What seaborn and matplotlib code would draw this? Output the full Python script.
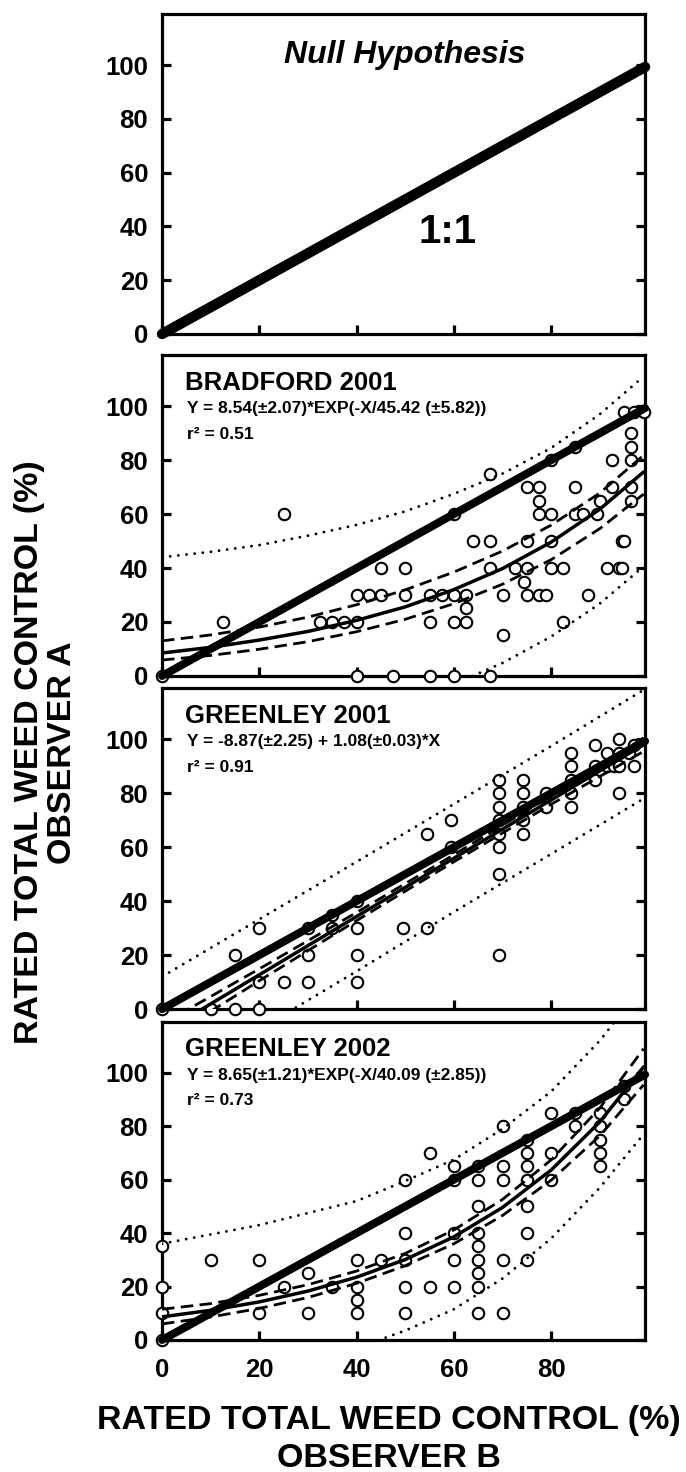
import matplotlib
matplotlib.use("Agg")
import matplotlib.pyplot as plt
import seaborn as sns

# datos (observador B = x, observador A = y)
sns.set_style("ticks")
plt.rcParams['font.family'] = ['Liberation Sans', 'DejaVu Sans']
plt.rcParams['font.weight'] = 'bold'
for clave in ['text.color', 'axes.edgecolor', 'axes.labelcolor', 'xtick.color', 'ytick.color']:
    plt.rcParams[clave] = 'black'

# BRADFORD 2001
b01_x = [0, 12.5, 25, 32.5, 35, 37.5, 40, 40, 42.5, 45,
         45, 50, 50, 40, 47.5, 55, 60, 67.5, 55, 55,
         57.5, 60, 62.5, 62.5, 62.5, 60, 60, 64, 67.5, 67.5,
         67.5, 70, 70, 72.5, 75, 77.5, 77.5, 77.5, 80, 75,
         75, 74.5, 75, 77.5, 79, 80, 80, 80, 82.5, 82.5,
         85, 85, 85, 86.5, 87.5, 89.5, 90, 91.5, 92.5, 92.5,
         94, 94.5, 94.5, 95, 95, 96.5, 96.5, 96.5, 96.5, 96.5,
         97, 99]
b01_y = [0, 20, 60, 20, 20, 20, 20, 30, 30, 30,
         40, 40, 30, 0, 0, 0, 0, 0, 20, 30,
         30, 30, 30, 25, 20, 20, 60, 50, 50, 40,
         75, 30, 15, 40, 70, 70, 65, 60, 60, 50,
         40, 35, 30, 30, 30, 80, 50, 40, 40, 20,
         85, 70, 60, 60, 30, 60, 65, 40, 80, 70,
         40, 40, 50, 50, 98, 90, 85, 80, 70, 65,
         98, 98]

# GREENLEY 2001
g01_x = [0, 10, 15, 20, 15, 20, 20, 25, 30, 30,
         30, 35, 35, 40, 40, 40, 40, 49.5, 54.5, 54.5,
         59.5, 59.5, 69.3, 69.3, 69.3, 69.3, 69.3, 69.3, 69.3, 69.3,
         74.3, 74.3, 74.3, 74.3, 74.3, 79, 79, 84, 84, 84,
         84, 84, 89, 89, 89, 91.5, 91.5, 93, 94, 94,
         94, 94, 96, 97, 97]
g01_y = [0, 0, 0, 0, 20, 30, 10, 10, 10, 20,
         30, 30, 35, 30, 20, 10, 40, 30, 30, 65,
         70, 60, 85, 80, 75, 70, 65, 60, 50, 20,
         85, 80, 75, 70, 65, 75, 80, 95, 90, 85,
         80, 75, 98, 90, 85, 95, 90, 90, 100, 95,
         90, 80, 95, 90, 98]

# GREENLEY 2002
g02_x = [0, 0, 0, 0, 10, 20, 20, 25, 30, 30,
         35, 40, 40, 40, 40, 45, 50, 50, 50, 50,
         50, 55, 55, 60, 60, 60, 60, 60, 65, 65,
         65, 65, 65, 65, 65, 65, 65, 70, 70, 70,
         70, 70, 75, 75, 75, 75, 75, 75, 75, 80,
         80, 80, 85, 85, 90, 90, 90, 90, 90, 95,
         95]
g02_y = [0, 10, 20, 35, 30, 30, 10, 20, 25, 10,
         20, 30, 20, 15, 10, 30, 60, 40, 30, 20,
         10, 70, 20, 65, 60, 40, 30, 20, 65, 60,
         50, 40, 35, 30, 25, 20, 10, 80, 65, 60,
         30, 10, 75, 70, 65, 60, 50, 40, 30, 85,
         70, 60, 85, 80, 85, 80, 75, 70, 65, 95,
         90]

# curvas ajustadas y bandas
cx = [0, 10, 20, 30, 40, 50, 60, 70, 80, 90, 99]
b01_fit = [8.5, 10.6, 13.3, 16.5, 20.6, 25.6, 32.0, 39.8, 49.6, 61.8, 75.6]
b01_ci_hi = [13.0, 15.2, 18.1, 21.8, 26.4, 31.9, 38.5, 46.3, 55.9, 67.8, 81.8]
b01_ci_lo = [5.9, 7.6, 9.9, 12.7, 16.4, 21.0, 26.8, 34.0, 43.1, 54.6, 67.4]
b01_pi_hi = [44, 46, 48.5, 52, 56, 61, 67.5, 75, 84.5, 97, 111]
b01_pi_lo = [-26.5, -24.4, -21.7, -18.5, -14.4, -9.4, -3, 4.8, 14.6, 26.8, 40.6]

lx = [0, 20, 40, 60, 80, 99]
g01_fit = [-8.9, 12.7, 34.3, 55.9, 77.5, 98.0]
g01_ci_hi = [-5.6, 14.9, 35.8, 57.2, 79.1, 100.5]
g01_ci_lo = [-12.2, 10.5, 32.8, 54.6, 75.9, 95.5]
g01_pi_hi = [12.0, 33.3, 54.6, 76.0, 97.5, 118.3]
g01_pi_lo = [-29.0, -7.5, 14.0, 36.0, 57.5, 78.0]

g02_fit = [8.65, 11.1, 14.25, 18.3, 23.5, 30.1, 38.6, 49.6, 63.6, 81.6, 102.2]
g02_ci_hi = [11.5, 13.6, 16.7, 20.7, 25.8, 32.4, 41.2, 52.6, 67.4, 86.8, 109]
g02_ci_lo = [6.0, 8.6, 11.8, 15.9, 21.2, 27.8, 36.0, 46.6, 59.8, 76.4, 95.5]
g02_pi_hi = [36, 39.5, 43, 47.5, 52, 59.5, 67.5, 79, 93, 112, 133]
g02_pi_lo = [-17.5, -15, -12, -8, -3, 3.5, 11.5, 23, 38, 57, 77]

linea_11 = [0, 99.3]

paneles = [
    ('BRADFORD 2001', 'Y = 8.54(±2.07)*EXP(-X/45.42 (±5.82))', 'r² = 0.51',
     b01_x, b01_y, cx, b01_fit, b01_ci_hi, b01_ci_lo, b01_pi_hi, b01_pi_lo),
    ('GREENLEY 2001', 'Y = -8.87(±2.25) + 1.08(±0.03)*X', 'r² = 0.91',
     g01_x, g01_y, lx, g01_fit, g01_ci_hi, g01_ci_lo, g01_pi_hi, g01_pi_lo),
    ('GREENLEY 2002', 'Y = 8.65(±1.21)*EXP(-X/40.09 (±2.85))', 'r² = 0.73',
     g02_x, g02_y, cx, g02_fit, g02_ci_hi, g02_ci_lo, g02_pi_hi, g02_pi_lo),
]

fig = plt.figure(figsize=(6.86, 14.72), dpi=100)
posiciones = [[0.2362, 0.7731, 0.7041, 0.2174],
              [0.2362, 0.5408, 0.7041, 0.2181],
              [0.2362, 0.3145, 0.7041, 0.2181],
              [0.2362, 0.0897, 0.7041, 0.2160]]
axes = [fig.add_axes(p) for p in posiciones]


def estilo(ax, ultimo):
    ax.set_xlim(0, 99.3)
    ax.set_ylim(0, 119)
    ax.set_yticks([0, 20, 40, 60, 80, 100])
    ax.set_xticks([0, 20, 40, 60, 80])
    for s in ax.spines.values():
        s.set_linewidth(2.3)
        s.set_visible(True)
        s.set_color('black')
    ax.tick_params(axis='both', direction='in', length=6.5, width=2.3,
                   right=True, top=False, labelsize=18.5, colors='black')
    ax.tick_params(axis='y', pad=10)
    ax.tick_params(axis='x', pad=13)
    if not ultimo:
        ax.set_xticklabels([])
    for lab in ax.get_xticklabels() + ax.get_yticklabels():
        lab.set_fontweight('bold')
    ax.set_xlabel('')
    ax.set_ylabel('')


# panel 1: hipotesis nula
ax = axes[0]
ax.plot(linea_11, linea_11, color='black', lw=7.5, solid_capstyle='round',
        clip_on=False, zorder=5)
ax.text(0.503, 0.872, 'Null Hypothesis', transform=ax.transAxes, fontsize=23,
        fontweight='bold', fontstyle='italic', ha='center', va='center')
ax.text(0.592, 0.319, '1:1', transform=ax.transAxes, fontsize=29,
        fontweight='bold', ha='center', va='center')
estilo(ax, False)

# paneles 2-4
for i, (tit, ecu, r2, px, py, gx, fit, cih, cil, pih, pil) in enumerate(paneles):
    ax = axes[i + 1]
    sns.scatterplot(x=px, y=py, ax=ax, s=68, facecolor='white', edgecolor='black',
                    linewidth=1.5, zorder=3, clip_on=False)
    sns.lineplot(x=gx, y=fit, ax=ax, color='black', lw=2.5, zorder=4)
    for banda in (cih, cil):
        sns.lineplot(x=gx, y=banda, ax=ax, color='black', lw=2.0, zorder=4,
                     linestyle=(0, (4.5, 2.3)))
    for banda in (pih, pil):
        sns.lineplot(x=gx, y=banda, ax=ax, color='black', lw=2.1, zorder=4,
                     linestyle=(0, (0.01, 2.8)), dash_capstyle='round')
    ax.plot(linea_11, linea_11, color='black', lw=5.8, solid_capstyle='round',
            clip_on=False, zorder=5)
    ax.text(0.048, 0.914, tit, transform=ax.transAxes, fontsize=18.5,
            fontweight='bold', ha='left', va='center')
    ax.text(0.052, 0.833, ecu, transform=ax.transAxes, fontsize=12.5,
            fontweight='bold', ha='left', va='center')
    ax.text(0.052, 0.752, r2, transform=ax.transAxes, fontsize=12.5,
            fontweight='bold', ha='left', va='center')
    estilo(ax, i == 2)

fig.text(0.067, 0.489, 'RATED TOTAL WEED CONTROL (%)\nOBSERVER A', rotation=90,
         fontsize=24.5, fontweight='bold', ha='center', va='center',
         multialignment='center', linespacing=1.06)
fig.text(0.567, 0.022, 'RATED TOTAL WEED CONTROL (%)\nOBSERVER B',
         fontsize=24.5, fontweight='bold', ha='center', va='center',
         multialignment='center', linespacing=1.26)

plt.savefig('out.png', dpi=100)
